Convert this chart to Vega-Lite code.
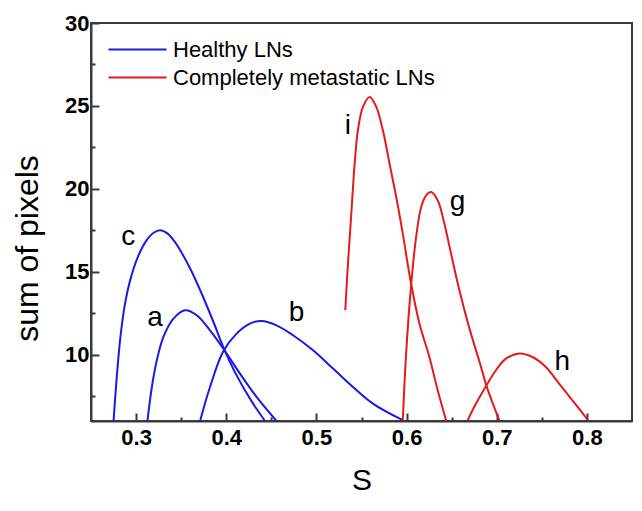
{
  "$schema": "https://vega.github.io/schema/vega-lite/v6.json",
  "width": 541,
  "height": 398,
  "autosize": {"type": "none"},
  "padding": {"left": 91, "top": 23, "right": 10, "bottom": 90},
  "background": "white",
  "config": {
    "view": {"stroke": "#3a3a3a", "strokeWidth": 2},
    "font": "Liberation Sans",
    "axis": {"grid": false, "domainColor": "#3a3a3a", "tickColor": "#3a3a3a", "labelColor": "#000", "titleColor": "#000", "labelFont": "Liberation Sans", "titleFont": "Liberation Sans"}
  },
  "data": {
    "values": [
      {"curve": "c", "group": "Healthy LNs", "S": 0.275, "pixels": 6.0},
      {"curve": "c", "group": "Healthy LNs", "S": 0.2785, "pixels": 8.6},
      {"curve": "c", "group": "Healthy LNs", "S": 0.2825, "pixels": 11.0},
      {"curve": "c", "group": "Healthy LNs", "S": 0.2875, "pixels": 13.0},
      {"curve": "c", "group": "Healthy LNs", "S": 0.294, "pixels": 14.6},
      {"curve": "c", "group": "Healthy LNs", "S": 0.302, "pixels": 15.9},
      {"curve": "c", "group": "Healthy LNs", "S": 0.311, "pixels": 16.85},
      {"curve": "c", "group": "Healthy LNs", "S": 0.3195, "pixels": 17.35},
      {"curve": "c", "group": "Healthy LNs", "S": 0.3267, "pixels": 17.5},
      {"curve": "c", "group": "Healthy LNs", "S": 0.335, "pixels": 17.3},
      {"curve": "c", "group": "Healthy LNs", "S": 0.343, "pixels": 16.8},
      {"curve": "c", "group": "Healthy LNs", "S": 0.351, "pixels": 16.1},
      {"curve": "c", "group": "Healthy LNs", "S": 0.36, "pixels": 15.2},
      {"curve": "c", "group": "Healthy LNs", "S": 0.371, "pixels": 13.9},
      {"curve": "c", "group": "Healthy LNs", "S": 0.3856, "pixels": 12.0},
      {"curve": "c", "group": "Healthy LNs", "S": 0.3967, "pixels": 10.46},
      {"curve": "c", "group": "Healthy LNs", "S": 0.4115, "pixels": 8.75},
      {"curve": "c", "group": "Healthy LNs", "S": 0.428, "pixels": 7.2},
      {"curve": "c", "group": "Healthy LNs", "S": 0.443, "pixels": 6.0},
      {"curve": "a", "group": "Healthy LNs", "S": 0.3126, "pixels": 6.0},
      {"curve": "a", "group": "Healthy LNs", "S": 0.3175, "pixels": 8.05},
      {"curve": "a", "group": "Healthy LNs", "S": 0.323, "pixels": 9.66},
      {"curve": "a", "group": "Healthy LNs", "S": 0.3303, "pixels": 11.07},
      {"curve": "a", "group": "Healthy LNs", "S": 0.3414, "pixels": 12.17},
      {"curve": "a", "group": "Healthy LNs", "S": 0.3543, "pixels": 12.68},
      {"curve": "a", "group": "Healthy LNs", "S": 0.3673, "pixels": 12.38},
      {"curve": "a", "group": "Healthy LNs", "S": 0.382, "pixels": 11.47},
      {"curve": "a", "group": "Healthy LNs", "S": 0.3967, "pixels": 10.37},
      {"curve": "a", "group": "Healthy LNs", "S": 0.4152, "pixels": 8.86},
      {"curve": "a", "group": "Healthy LNs", "S": 0.4336, "pixels": 7.45},
      {"curve": "a", "group": "Healthy LNs", "S": 0.4557, "pixels": 6.0},
      {"curve": "b", "group": "Healthy LNs", "S": 0.371, "pixels": 6.0},
      {"curve": "b", "group": "Healthy LNs", "S": 0.382, "pixels": 8.05},
      {"curve": "b", "group": "Healthy LNs", "S": 0.3967, "pixels": 10.2},
      {"curve": "b", "group": "Healthy LNs", "S": 0.4115, "pixels": 11.27},
      {"curve": "b", "group": "Healthy LNs", "S": 0.4262, "pixels": 11.87},
      {"curve": "b", "group": "Healthy LNs", "S": 0.4392, "pixels": 12.03},
      {"curve": "b", "group": "Healthy LNs", "S": 0.4558, "pixels": 11.77},
      {"curve": "b", "group": "Healthy LNs", "S": 0.4741, "pixels": 11.17},
      {"curve": "b", "group": "Healthy LNs", "S": 0.4963, "pixels": 10.26},
      {"curve": "b", "group": "Healthy LNs", "S": 0.5184, "pixels": 9.16},
      {"curve": "b", "group": "Healthy LNs", "S": 0.5405, "pixels": 8.05},
      {"curve": "b", "group": "Healthy LNs", "S": 0.5626, "pixels": 7.05},
      {"curve": "b", "group": "Healthy LNs", "S": 0.5958, "pixels": 6.05},
      {"curve": "i", "group": "Completely metastatic LNs", "S": 0.532, "pixels": 12.68},
      {"curve": "i", "group": "Completely metastatic LNs", "S": 0.535, "pixels": 15.49},
      {"curve": "i", "group": "Completely metastatic LNs", "S": 0.5387, "pixels": 18.5},
      {"curve": "i", "group": "Completely metastatic LNs", "S": 0.5424, "pixels": 21.52},
      {"curve": "i", "group": "Completely metastatic LNs", "S": 0.546, "pixels": 23.53},
      {"curve": "i", "group": "Completely metastatic LNs", "S": 0.5516, "pixels": 24.94},
      {"curve": "i", "group": "Completely metastatic LNs", "S": 0.559, "pixels": 25.54},
      {"curve": "i", "group": "Completely metastatic LNs", "S": 0.5664, "pixels": 24.94},
      {"curve": "i", "group": "Completely metastatic LNs", "S": 0.5737, "pixels": 23.53},
      {"curve": "i", "group": "Completely metastatic LNs", "S": 0.5811, "pixels": 21.52},
      {"curve": "i", "group": "Completely metastatic LNs", "S": 0.5885, "pixels": 19.51},
      {"curve": "i", "group": "Completely metastatic LNs", "S": 0.5958, "pixels": 17.3},
      {"curve": "i", "group": "Completely metastatic LNs", "S": 0.6043, "pixels": 14.49},
      {"curve": "i", "group": "Completely metastatic LNs", "S": 0.6143, "pixels": 11.87},
      {"curve": "i", "group": "Completely metastatic LNs", "S": 0.6253, "pixels": 9.86},
      {"curve": "i", "group": "Completely metastatic LNs", "S": 0.6345, "pixels": 7.85},
      {"curve": "i", "group": "Completely metastatic LNs", "S": 0.644, "pixels": 6.0},
      {"curve": "g", "group": "Completely metastatic LNs", "S": 0.5958, "pixels": 6.04},
      {"curve": "g", "group": "Completely metastatic LNs", "S": 0.5995, "pixels": 10.07},
      {"curve": "g", "group": "Completely metastatic LNs", "S": 0.605, "pixels": 14.18},
      {"curve": "g", "group": "Completely metastatic LNs", "S": 0.6106, "pixels": 17.1},
      {"curve": "g", "group": "Completely metastatic LNs", "S": 0.6162, "pixels": 18.91},
      {"curve": "g", "group": "Completely metastatic LNs", "S": 0.6217, "pixels": 19.61},
      {"curve": "g", "group": "Completely metastatic LNs", "S": 0.6272, "pixels": 19.81},
      {"curve": "g", "group": "Completely metastatic LNs", "S": 0.6345, "pixels": 19.31},
      {"curve": "g", "group": "Completely metastatic LNs", "S": 0.6419, "pixels": 17.9},
      {"curve": "g", "group": "Completely metastatic LNs", "S": 0.6493, "pixels": 16.1},
      {"curve": "g", "group": "Completely metastatic LNs", "S": 0.6585, "pixels": 13.9},
      {"curve": "g", "group": "Completely metastatic LNs", "S": 0.6696, "pixels": 11.6},
      {"curve": "g", "group": "Completely metastatic LNs", "S": 0.6807, "pixels": 9.6},
      {"curve": "g", "group": "Completely metastatic LNs", "S": 0.6887, "pixels": 8.1},
      {"curve": "g", "group": "Completely metastatic LNs", "S": 0.696, "pixels": 7.0},
      {"curve": "g", "group": "Completely metastatic LNs", "S": 0.7028, "pixels": 6.04},
      {"curve": "h", "group": "Completely metastatic LNs", "S": 0.6677, "pixels": 6.04},
      {"curve": "h", "group": "Completely metastatic LNs", "S": 0.677, "pixels": 7.05},
      {"curve": "h", "group": "Completely metastatic LNs", "S": 0.688, "pixels": 8.1},
      {"curve": "h", "group": "Completely metastatic LNs", "S": 0.6991, "pixels": 9.06},
      {"curve": "h", "group": "Completely metastatic LNs", "S": 0.7102, "pixels": 9.76},
      {"curve": "h", "group": "Completely metastatic LNs", "S": 0.7249, "pixels": 10.07},
      {"curve": "h", "group": "Completely metastatic LNs", "S": 0.7396, "pixels": 9.86},
      {"curve": "h", "group": "Completely metastatic LNs", "S": 0.7544, "pixels": 9.26},
      {"curve": "h", "group": "Completely metastatic LNs", "S": 0.7691, "pixels": 8.26},
      {"curve": "h", "group": "Completely metastatic LNs", "S": 0.7839, "pixels": 7.25},
      {"curve": "h", "group": "Completely metastatic LNs", "S": 0.8005, "pixels": 6.1}
    ]
  },
  "layer": [
    {
      "mark": {"type": "line", "strokeWidth": 2, "interpolate": "catmull-rom"},
      "encoding": {
        "x": {
          "field": "S", "type": "quantitative",
          "scale": {"domain": [0.25, 0.85], "nice": false, "zero": false},
          "axis": {
            "orient": "bottom",
            "values": [0.3, 0.35, 0.4, 0.45, 0.5, 0.55, 0.6, 0.65, 0.7, 0.75, 0.8],
            "labelExpr": "abs(datum.value * 10 - round(datum.value * 10)) < 0.001 ? format(datum.value, '.1f') : ''",
            "tickSize": {"condition": {"test": "abs(datum.value * 10 - round(datum.value * 10)) > 0.001", "value": -4}, "value": -8},
            "tickWidth": 2, "domainWidth": 2, "labelFontSize": 22, "labelFontWeight": "bold", "labelPadding": 14,
            "title": "S", "titleFontSize": 30, "titleFontWeight": "normal", "titlePadding": 17
          }
        },
        "y": {
          "field": "pixels", "type": "quantitative",
          "scale": {"domain": [6, 30], "nice": false, "zero": false},
          "axis": {
            "orient": "left",
            "values": [7.5, 10, 12.5, 15, 17.5, 20, 22.5, 25, 27.5, 30],
            "labelExpr": "abs(datum.value / 5 - round(datum.value / 5)) < 0.001 ? format(datum.value, 'd') : ''",
            "tickSize": {"condition": {"test": "abs(datum.value / 5 - round(datum.value / 5)) > 0.001", "value": -4}, "value": -8},
            "tickWidth": 2, "domainWidth": 2, "labelFontSize": 22, "labelFontWeight": "bold", "labelPadding": 10,
            "title": "sum of pixels", "titleFontSize": 32, "titleFontWeight": "normal", "titlePadding": 20, "titleY": 225
          }
        },
        "color": {
          "field": "group", "type": "nominal",
          "scale": {"domain": ["Healthy LNs", "Completely metastatic LNs"], "range": ["#1a1ae6", "#e61a1a"]},
          "legend": {"orient": "none", "legendX": 31, "legendY": 11, "title": null, "symbolType": "M-2,0H2", "symbolSize": 841, "symbolStrokeWidth": 2, "labelFontSize": 22, "labelFont": "Liberation Sans", "labelColor": "#000", "labelOffset": 20, "labelLimit": 0, "rowPadding": 1}
        },
        "detail": {"field": "curve"}
      }
    },
    {
      "data": {"values": [
        {"label": "c", "S": 0.2914, "pixels": 17.1},
        {"label": "a", "S": 0.321, "pixels": 12.2},
        {"label": "b", "S": 0.478, "pixels": 12.5},
        {"label": "i", "S": 0.535, "pixels": 23.8},
        {"label": "g", "S": 0.6566, "pixels": 19.2},
        {"label": "h", "S": 0.7728, "pixels": 9.56}
      ]},
      "mark": {"type": "text", "fontSize": 28, "font": "Liberation Sans", "color": "#000", "align": "center", "baseline": "middle"},
      "encoding": {
        "x": {"field": "S", "type": "quantitative"},
        "y": {"field": "pixels", "type": "quantitative"},
        "text": {"field": "label"}
      }
    },
    {
      "data": {"values": [{"k": 1}]},
      "mark": {"type": "rule", "stroke": "#3a3a3a", "strokeWidth": 2},
      "encoding": {
        "x": {"datum": 0.25, "type": "quantitative"},
        "x2": {"datum": 0.85},
        "y": {"datum": 30, "type": "quantitative"}
      }
    },
    {
      "data": {"values": [{"k": 1}]},
      "mark": {"type": "rule", "stroke": "#3a3a3a", "strokeWidth": 2},
      "encoding": {
        "x": {"datum": 0.85, "type": "quantitative"},
        "y": {"datum": 6, "type": "quantitative"},
        "y2": {"datum": 30}
      }
    }
  ]
}
